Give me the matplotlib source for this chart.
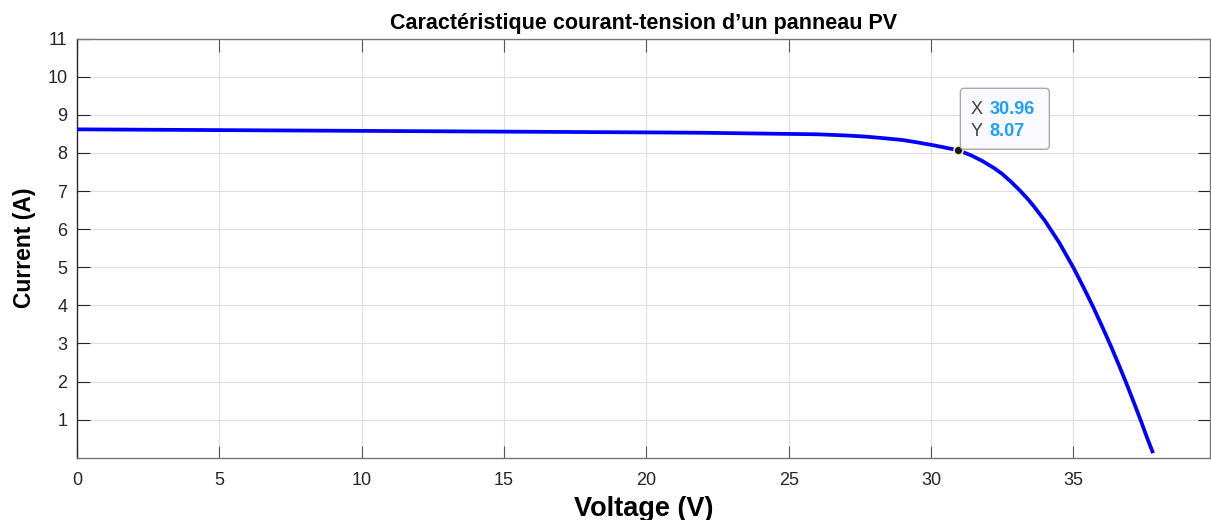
import matplotlib
matplotlib.use("Agg")
import matplotlib.pyplot as plt
import matplotlib.transforms as mtransforms
from matplotlib.patches import FancyBboxPatch

plt.rcParams['font.family'] = ['Liberation Sans', 'DejaVu Sans']

# I-V curve of the PV panel
voltage = [0, 5, 10, 15, 20, 22, 25, 26, 27, 27.7, 28.3, 29.0, 29.5, 30.1, 30.5, 30.96,
           31.4, 31.8, 32.2, 32.5, 32.8, 33.1, 33.4, 33.6, 34.0, 34.5, 35.0, 35.35,
           35.7, 36.0, 36.3, 36.6, 36.9, 37.15, 37.4, 37.6, 37.8]
current = [8.62, 8.60, 8.58, 8.56, 8.54, 8.53, 8.50, 8.49, 8.46, 8.43, 8.39, 8.34, 8.28, 8.20, 8.14, 8.07,
           7.94, 7.79, 7.61, 7.45, 7.25, 7.03, 6.79, 6.61, 6.22, 5.65, 4.99, 4.48,
           3.95, 3.46, 2.96, 2.43, 1.88, 1.40, 0.91, 0.50, 0.12]

# data tip
tip_v = 30.96
tip_i = 8.07

xticks = [0, 5, 10, 15, 20, 25, 30, 35]
yticks = [1, 2, 3, 4, 5, 6, 7, 8, 9, 10, 11]

fig = plt.figure(figsize=(12.11, 5.20), dpi=100)
ax = fig.add_axes([0.0636, 0.1198, 0.9356, 0.8058])

ax.plot(voltage, current, color=(0, 0, 1), lw=2.7, solid_capstyle='butt',
        solid_joinstyle='round', zorder=3)

ax.set_xlim(0, 39.8)
ax.set_ylim(0, 11)
ax.set_xticks(xticks)
ax.set_yticks(yticks)
ax.grid(True, color='#dedede', lw=0.8)
ax.set_axisbelow(True)

ax.tick_params(direction='in', length=9, width=0.8, colors='#262626',
               labelsize=13, top=True, right=True, pad=7)
ax.tick_params(axis='x', colors='#555555', labelcolor='#262626', pad=10)
for side in ['top', 'right', 'bottom']:
    ax.spines[side].set_color('#777777')
ax.spines['left'].set_color('#262626')
for s in ax.spines.values():
    s.set_linewidth(1.0)

ax.set_title('Caractéristique courant-tension d’un panneau PV',
             fontsize=15.5, fontweight='bold', pad=7)
ax.set_xlabel('Voltage (V)', fontsize=19.5, fontweight='bold', labelpad=5)
ax.set_ylabel('Current (A)', fontsize=16.5, fontweight='bold', labelpad=8)

# data tip marker and box
ax.plot([tip_v], [tip_i], 'o', ms=6.5, mfc='#1a1a1a', mec='#f2f2c0', mew=1.2, zorder=5)
tr = mtransforms.Affine2D().translate(2, 1) + mtransforms.ScaledTranslation(tip_v, tip_i, ax.transData)
box = FancyBboxPatch((0, 0), 89, 61, boxstyle='round,pad=0,rounding_size=4',
                     transform=tr, facecolor='#f9f9ff', edgecolor='#a8a8a8', lw=1.0, zorder=6)
ax.add_patch(box)
ax.annotate('X', (tip_v, tip_i), xytext=(12, 41), textcoords='offset pixels',
            fontsize=13, color='#404040', va='center', zorder=7)
ax.annotate('Y', (tip_v, tip_i), xytext=(12, 19), textcoords='offset pixels',
            fontsize=13, color='#404040', va='center', zorder=7)
ax.annotate(f'{tip_v:.2f}', (tip_v, tip_i), xytext=(31, 41), textcoords='offset pixels',
            fontsize=13, color='#1a9fff', fontweight='bold', va='center', zorder=7)
ax.annotate(f'{tip_i:.2f}', (tip_v, tip_i), xytext=(31, 19), textcoords='offset pixels',
            fontsize=13, color='#1a9fff', fontweight='bold', va='center', zorder=7)

fig.savefig('out.png', dpi=100)
